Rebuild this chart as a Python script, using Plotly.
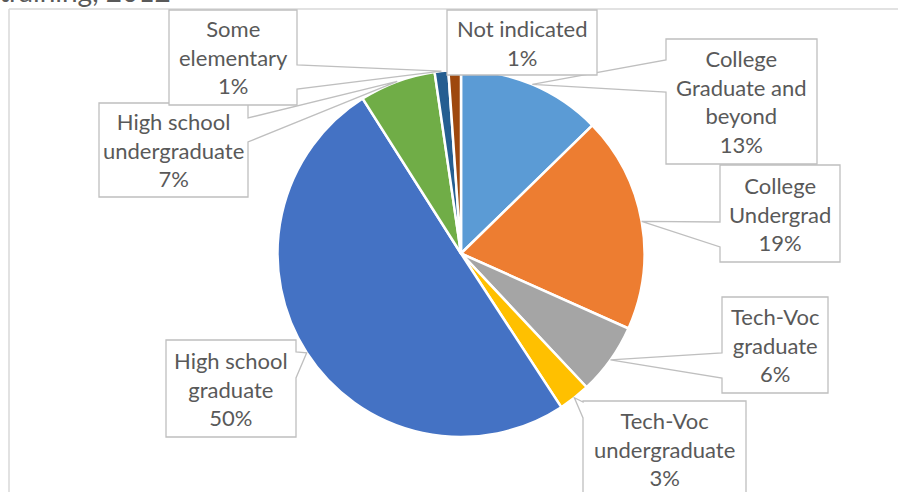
import math
import plotly.graph_objects as go

W, H = 898, 492

# data
categories = ["College Graduate and beyond", "College Undergrad", "Tech-Voc graduate",
              "Tech-Voc undergraduate", "High school graduate", "High school undergraduate",
              "Some elementary", "Not indicated"]
label_lines = ["College<br>Graduate and<br>beyond", "College<br>Undergrad", "Tech-Voc<br>graduate",
               "Tech-Voc<br>undergraduate", "High school<br>graduate", "High school<br>undergraduate",
               "Some<br>elementary", "Not indicated"]
values = [12.7, 19.0, 6.3, 2.8, 50.2, 6.7, 1.2, 1.1]
colors = ["#5B9BD5", "#ED7D31", "#A5A5A5", "#FFC000", "#4472C4", "#70AD47", "#255E91", "#9E480E"]
title_tail = "training, 2012"

# layout (pixels): pie centre / radius and the callout boxes
cx, cy, r = 461, 253.5, 183.5
# box x0, y0, x1, y1, side of pointer, pointer base (two coords along that side)
boxes = [
    (666, 39, 817, 164, "left", (60, 92)),
    (720, 165, 840, 262, "left", (222, 247)),
    (722, 297, 828, 393, "left", (353, 378)),
    (583, 401, 746, 505, "left", (402, 418)),
    (166, 340, 296, 437, "right", (352, 378)),
    (99, 103, 248, 197, "right", (118, 142)),
    (169, 10, 297, 105, "right", (65, 89)),
    (447, 10, 597, 75, None, None),
]
FONT = "Lato"
TEXT = "#595959"
EDGE = "#BFBFBF"


def px(x, y):
    return x / W, 1 - y / H


def callout_path(box, tip):
    x0, y0, x1, y1, side, base = box
    pts = [(x0, y0), (x1, y0)]
    if side == "right":
        pts += [(x1, base[0]), tip, (x1, base[1])]
    pts += [(x1, y1), (x0, y1)]
    if side == "left":
        pts += [(x0, base[1]), tip, (x0, base[0])]
    s = []
    for i, (x, y) in enumerate(pts):
        X, Y = px(x, y)
        s.append(("M" if i == 0 else "L") + f"{X:.5f},{Y:.5f}")
    return " ".join(s) + " Z"


fig = go.Figure(go.Pie(
    labels=categories,
    values=values,
    sort=False,
    direction="clockwise",
    rotation=0,
    marker=dict(colors=colors, line=dict(color="white", width=2.5)),
    textinfo="none",
    hoverinfo="label+percent",
    domain=dict(x=[(cx - r) / W, (cx + r) / W],
                y=[1 - (cy + r) / H, 1 - (cy - r) / H]),
))

# chart area border (top and left edges only visible)
shapes = [
    dict(type="line", xref="paper", yref="paper", x0=9 / W, x1=1.01, y0=1 - 9 / H, y1=1 - 9 / H,
         line=dict(color="#D9D9D9", width=1.5)),
    dict(type="line", xref="paper", yref="paper", x0=9 / W, x1=9 / W, y0=1 - 9 / H, y1=-0.01,
         line=dict(color="#D9D9D9", width=1.5)),
]
annotations = []
total = sum(values)
cum = 0
for name, lab, v, box in zip(categories, label_lines, values, boxes):
    mid = 2 * math.pi * (cum + v / 2) / total
    cum += v
    tip = (cx + r * math.sin(mid), cy - r * math.cos(mid))
    shapes.append(dict(type="path", xref="paper", yref="paper", path=callout_path(box, tip),
                       fillcolor="white", line=dict(color=EDGE, width=1.3), layer="above"))
    x0, y0, x1, y1 = box[:4]
    tx, ty = px((x0 + x1) / 2, (y0 + y1) / 2 if y1 < H else (y0 + 497) / 2)
    pct = round(v / total * 100)
    annotations.append(dict(x=tx, y=ty, xref="paper", yref="paper", showarrow=False,
                            xanchor="center", yanchor="middle",
                            text=f"{lab}<br>{pct}%", align="center",
                            font=dict(family=FONT, size=22, color=TEXT)))

# title is cut off at the top of the picture; only its tail shows
annotations.append(dict(x=-3 / W, y=1 - 10 / H, xref="paper", yref="paper", xanchor="left",
                        yanchor="bottom", showarrow=False, text=title_tail,
                        font=dict(family=FONT, size=28, color=TEXT)))

fig.update_layout(
    width=W, height=H,
    margin=dict(l=0, r=0, t=0, b=0),
    paper_bgcolor="white",
    showlegend=False,
    shapes=shapes,
    annotations=annotations,
)

fig.write_html("out.html", config={"displayModeBar": False},
               post_script="document.body.style.margin='0px';")
